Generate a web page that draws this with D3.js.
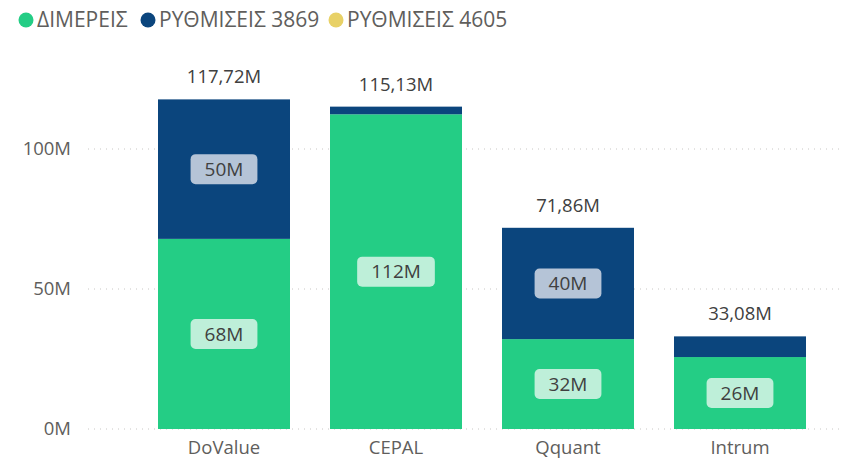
<!DOCTYPE html>
<html>
<head>
<meta charset="utf-8">
<script src="https://cdn.jsdelivr.net/npm/d3@7"></script>
<style>
  body { margin: 0; background: #fff; }
  svg { font-family: "Open Sans", "Noto Sans", sans-serif; }
</style>
</head>
<body>
<div id="chart"></div>
<script>
// gegevens
var categories = ["DoValue", "CEPAL", "Qquant", "Intrum"];
var seriesNames = ["ΔΙΜΕΡΕΙΣ", "ΡΥΘΜΙΣΕΙΣ 3869", "ΡΥΘΜΙΣΕΙΣ 4605"];
var dimereis = [67.9, 112.4, 32.1, 25.7];
var rythmiseis3869 = [49.82, 2.73, 39.76, 7.38];
var rythmiseis4605 = [0, 0, 0, 0];
var totals = ["117,72M", "115,13M", "71,86M", "33,08M"];
var yTicks = [0, 50, 100];
var colors = ["#24CD85", "#0B457D", "#E8D166"];

var width = 861, height = 460;

var rows = categories.map(function(c, i) {
    return { cat: c, s0: dimereis[i], s1: rythmiseis3869[i], s2: rythmiseis4605[i] };
});

var svg = d3.select("#chart").append("svg")
    .attr("width", width)
    .attr("height", height);

var x = d3.scaleBand()
    .domain(categories)
    .range([138, 826])
    .paddingInner(0.2326)
    .paddingOuter(0.1163);

var y = d3.scaleLinear()
    .domain([0, 100])
    .range([429, 149]);

// rasterlijnen en y-as labels
var grid = svg.append("g");
grid.selectAll("line")
    .data(yTicks)
    .enter().append("line")
    .attr("x1", 88).attr("x2", 840)
    .attr("y1", function(d) { return y(d); })
    .attr("y2", function(d) { return y(d); })
    .attr("stroke", "#C8C6C4")
    .attr("stroke-width", 1)
    .attr("stroke-dasharray", "1,5");

grid.selectAll("text")
    .data(yTicks)
    .enter().append("text")
    .attr("x", 71)
    .attr("y", function(d) { return y(d); })
    .attr("dy", "0.35em")
    .attr("text-anchor", "end")
    .attr("fill", "#605E5C")
    .style("font-size", "18.5px")
    .text(function(d) { return d + "M"; });

// gestapelde staven
var stack = d3.stack().keys(["s0", "s1", "s2"]);
var layers = stack(rows);

var layerG = svg.selectAll("g.layer")
    .data(layers)
    .enter().append("g")
    .attr("class", "layer")
    .attr("fill", function(d, i) { return colors[i]; });

layerG.selectAll("rect")
    .data(function(d) { return d; })
    .enter().append("rect")
    .attr("x", function(d) { return x(d.data.cat); })
    .attr("y", function(d) { return y(d[1]); })
    .attr("width", x.bandwidth())
    .attr("height", function(d) { return y(d[0]) - y(d[1]); });

// labels binnen de staven
var labelBg = ["#BEEFD9", "#B5C4D7"];
layers.slice(0, 2).forEach(function(layer, li) {
    layer.forEach(function(d) {
        var h = y(d[0]) - y(d[1]);
        if (h < 40) return;
        var cx = x(d.data.cat) + x.bandwidth() / 2;
        var cy = (y(d[0]) + y(d[1])) / 2;
        var txt = Math.round(d[1] - d[0]) + "M";
        var g = svg.append("g");
        var t = g.append("text")
            .attr("x", cx)
            .attr("y", cy)
            .attr("dy", "0.35em")
            .attr("text-anchor", "middle")
            .attr("fill", "#404040")
            .style("font-size", "19px")
            .text(txt);
        var w = t.node().getComputedTextLength() + 28;
        g.insert("rect", "text")
            .attr("x", cx - w / 2)
            .attr("y", cy - 15)
            .attr("width", w)
            .attr("height", 30)
            .attr("rx", 5)
            .attr("fill", labelBg[li]);
    });
});

// totalen boven de staven
svg.selectAll("text.total")
    .data(rows)
    .enter().append("text")
    .attr("class", "total")
    .attr("x", function(d) { return x(d.cat) + x.bandwidth() / 2; })
    .attr("y", function(d) { return y(d.s0 + d.s1 + d.s2) - 16; })
    .attr("text-anchor", "middle")
    .attr("fill", "#404040")
    .style("font-size", "18.5px")
    .text(function(d, i) { return totals[i]; });

// x-as labels
svg.selectAll("text.xlab")
    .data(categories)
    .enter().append("text")
    .attr("class", "xlab")
    .attr("x", function(d) { return x(d) + x.bandwidth() / 2; })
    .attr("y", 448)
    .attr("dy", "0.35em")
    .attr("text-anchor", "middle")
    .attr("fill", "#605E5C")
    .style("font-size", "18.5px")
    .text(function(d) { return d; });

// legenda
var legendX = [26, 148, 336];
var legend = svg.selectAll("g.legend")
    .data(seriesNames)
    .enter().append("g")
    .attr("class", "legend")
    .attr("transform", function(d, i) { return "translate(" + legendX[i] + ",20)"; });

legend.append("circle")
    .attr("r", 7.5)
    .attr("fill", function(d, i) { return colors[i]; });

legend.append("text")
    .attr("x", 11)
    .attr("dy", "0.35em")
    .attr("fill", "#605E5C")
    .style("font-size", "21px")
    .text(function(d) { return d; });
</script>
</body>
</html>
